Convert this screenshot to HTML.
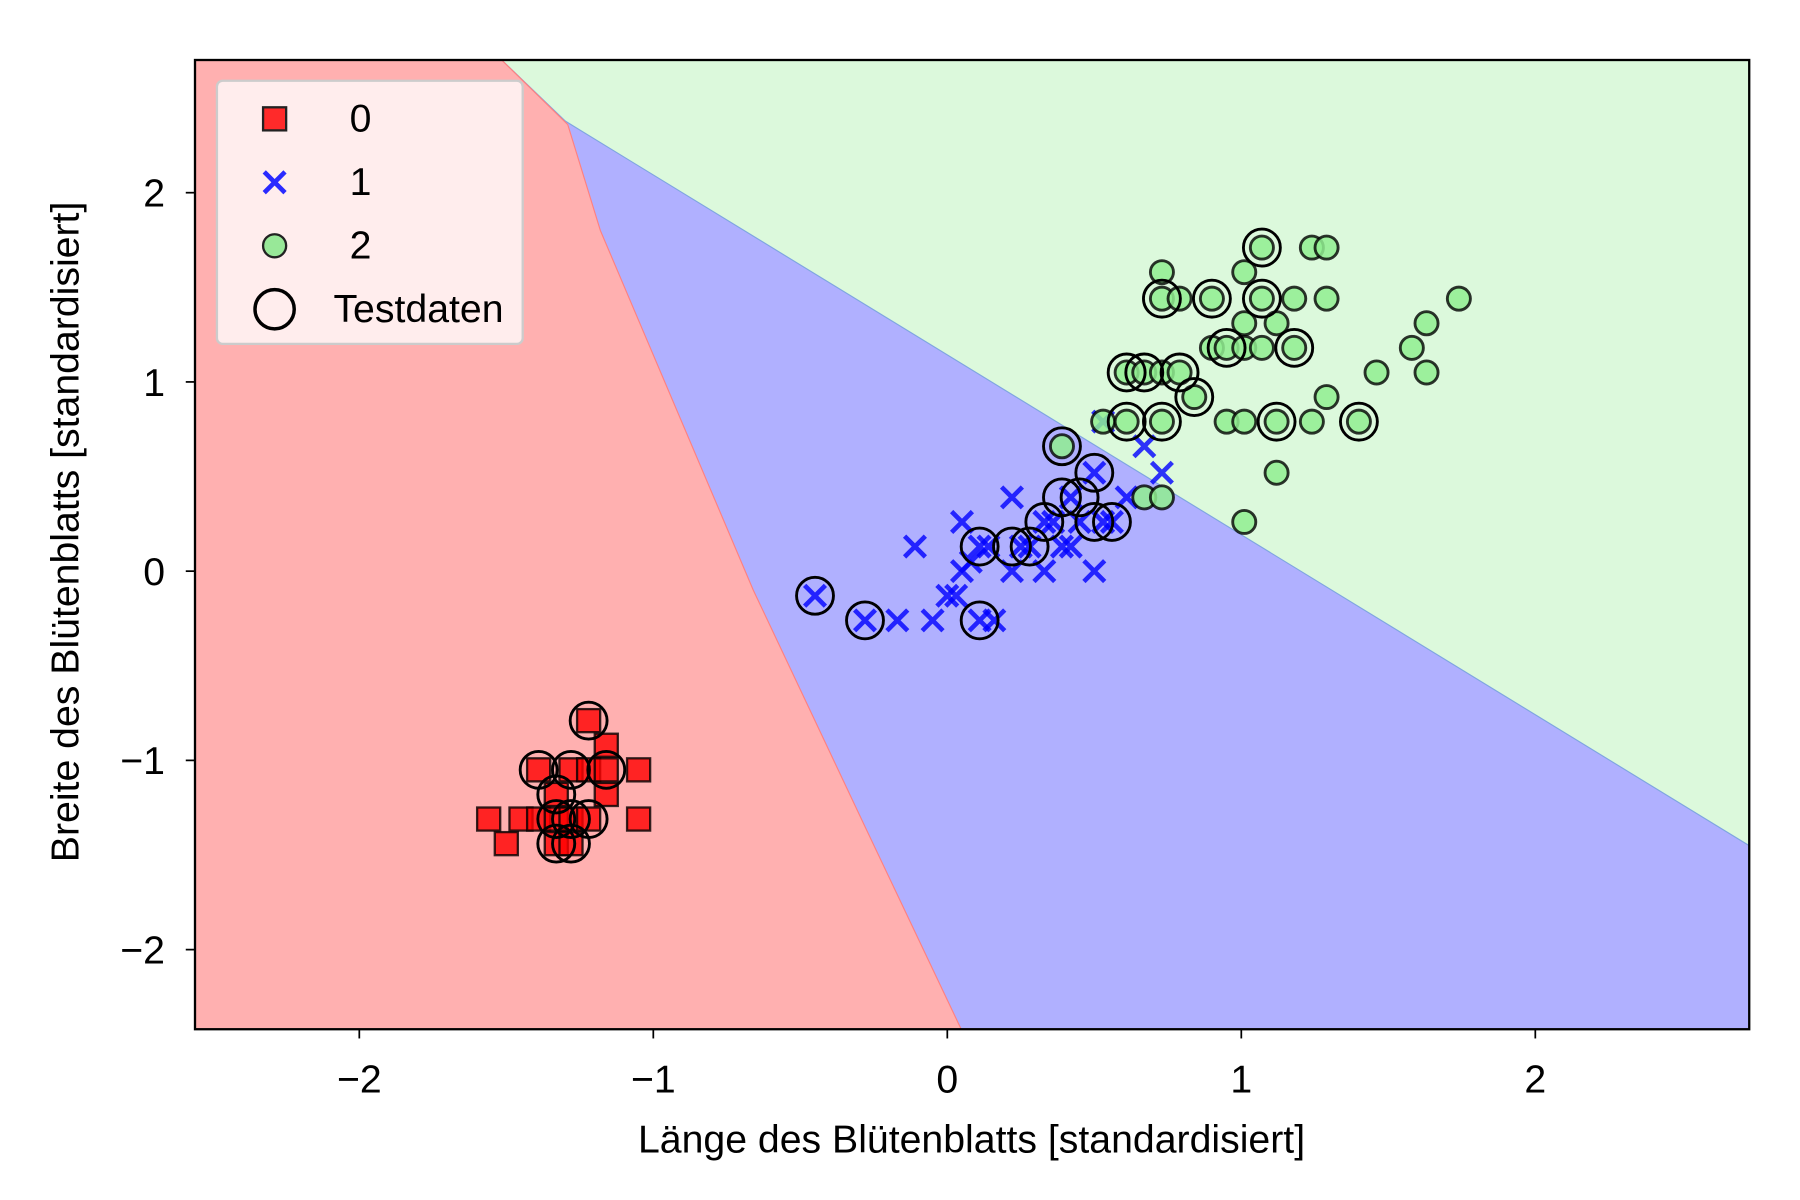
<!DOCTYPE html>
<html><head><meta charset="utf-8"><style>
html,body{margin:0;padding:0;background:#fff;}
svg{display:block;font-family:"Liberation Sans",sans-serif;}
</style></head><body>
<svg id="chart" width="1800" height="1200" viewBox="0 0 1560 1040" preserveAspectRatio="none" xmlns="http://www.w3.org/2000/svg">
<defs><clipPath id="plotclip"><rect x="169" y="52" width="1347" height="840"/></clipPath></defs>
<g id="plot" clip-path="url(#plotclip)"></g>
<rect x="169" y="52" width="1347" height="840" fill="none" stroke="#000" stroke-width="2"/>
<g id="axes"></g>
<text x="842" y="999" font-size="34" text-anchor="middle">Länge des Blütenblatts [standardisiert]</text>
<text transform="translate(68,461) rotate(-90)" font-size="34" text-anchor="middle">Breite des Blütenblatts [standardisiert]</text>
<g>
<rect x="188" y="70" width="265" height="228" rx="5" fill="#ffeded" stroke="#ccc" stroke-width="2"/>
<g><rect x="228" y="93" width="20" height="20" fill="#ff2a2a" stroke="#222" stroke-width="2"/><text x="303" y="114" font-size="34">0</text></g>
<g><path d="M229,149 L247,167 M247,149 L229,167" stroke="#2a2aff" stroke-width="4"/><text x="303" y="169" font-size="34">1</text></g>
<g><circle cx="238" cy="213" r="10" fill="#98e898" stroke="#222" stroke-width="2"/><text x="303" y="224" font-size="34">2</text></g>
<g><circle cx="238" cy="268" r="17" fill="none" stroke="#000" stroke-width="3"/><text x="289" y="279" font-size="34">Testdaten</text></g>
</g>
</svg>
<script>
const X0=821, XU=254.8, Y0=495, YU=164;
const xTicks=[-2,-1,0,1,2];
const yTicks=[-2,-1,0,1,2];
const xTickLabels=["\u22122","\u22121","0","1","2"];
const yTickLabels=["\u22122","\u22121","0","1","2"];
// decision boundaries in data coords
const redBoundaryX=[-1.515,-1.291,-1.18,-0.66,-0.28,0.047];
const redBoundaryY=[2.70,2.36,1.80,-0.10,-1.35,-2.42];
const greenBoundaryX=[-1.515,-1.299,2.728];
const greenBoundaryY=[2.70,2.378,-1.451];
const c0x=[-1.56,-1.50,-1.45,-1.39,-1.39,-1.33,-1.33,-1.33,-1.28,-1.28,-1.28,-1.22,-1.22,-1.22,-1.16,-1.16,-1.16,-1.05,-1.05];
const c0y=[-1.31,-1.44,-1.31,-1.05,-1.31,-1.18,-1.31,-1.44,-1.05,-1.31,-1.44,-0.79,-1.05,-1.31,-0.92,-1.05,-1.18,-1.05,-1.31];
const c1x=[-0.45,-0.28,-0.17,-0.11,-0.05,0,0.03,0.05,0.05,0.08,0.11,0.11,0.14,0.16,0.22,0.22,0.25,0.28,0.33,0.33,0.36,0.39,0.42,0.42,0.45,0.5,0.5,0.53,0.56,0.61,0.53,0.67,0.73];
const c1y=[-0.13,-0.26,-0.26,0.13,-0.26,-0.13,-0.13,0,0.26,0.05,0.13,-0.26,0.13,-0.26,0,0.39,0.13,0.13,0,0.26,0.26,0.13,0.13,0.39,0.26,0,0.52,0.26,0.26,0.39,0.79,0.66,0.52];
const c2x=[0.39,0.53,0.61,0.67,0.73,0.73,0.61,0.67,0.73,0.79,0.84,0.73,0.73,0.79,0.9,0.9,0.95,0.95,1.01,1.01,1.01,1.01,1.01,1.07,1.07,1.07,1.12,1.12,1.12,1.18,1.18,1.24,1.24,1.29,1.29,1.29,1.4,1.46,1.58,1.63,1.63,1.74];
const c2y=[0.66,0.79,0.79,0.39,0.39,0.79,1.05,1.05,1.05,1.05,0.92,1.44,1.58,1.44,1.44,1.18,1.18,0.79,0.79,0.26,1.18,1.31,1.58,1.71,1.44,1.18,1.31,0.52,0.79,1.18,1.44,1.71,0.79,1.71,1.44,0.92,0.79,1.05,1.18,1.31,1.05,1.44];
const testX=[-1.39,-1.28,-1.16,-1.22,-1.33,-1.33,-1.28,-1.22,-1.33,-1.28,-0.45,-0.28,0.11,0.11,0.22,0.28,0.33,0.39,0.45,0.5,0.5,0.56,0.39,0.61,0.73,0.61,0.67,0.79,0.84,0.73,0.9,0.95,1.07,1.07,1.18,1.12,1.4];
const testY=[-1.05,-1.05,-1.05,-0.79,-1.18,-1.31,-1.31,-1.31,-1.44,-1.44,-0.13,-0.26,0.13,-0.26,0.13,0.13,0.26,0.39,0.39,0.52,0.26,0.26,0.66,0.79,0.79,1.05,1.05,1.05,0.92,1.44,1.44,1.18,1.71,1.44,1.18,0.79,0.79];

const NS="http://www.w3.org/2000/svg";
const sx=v=>X0+v*XU, sy=v=>Y0-v*YU;
const plot=document.getElementById('plot'), axes=document.getElementById('axes');
function mk(tag,attrs,parent){const e=document.createElementNS(NS,tag);for(const k in attrs)e.setAttribute(k,attrs[k]);parent.appendChild(e);return e;}
const L=169,R=1516,T=52,B=892;
let bg=mk('rect',{x:L,y:T,width:R-L,height:B-T,fill:'#dcf9dc'},plot);


let bp=[];greenBoundaryX.forEach((v,i)=>bp.push(sx(v)+','+sy(greenBoundaryY[i])));
bp.push(R+','+B);bp.push(L+','+B);bp.push(L+','+T);
let blue=mk('polygon',{points:bp.join(' '),fill:'#b0b0ff',stroke:'#7fa6e0','stroke-width':1},plot);


let rp=[];redBoundaryX.forEach((v,i)=>rp.push(sx(v)+','+sy(redBoundaryY[i])));
rp.push(L+','+B);rp.push(L+','+T);
let red=mk('polygon',{points:rp.join(' '),fill:'#ffb0b0',stroke:'#ff8080','stroke-width':1},plot);


c0x.forEach((v,i)=>{const e=mk('rect',{x:sx(v)-10,y:sy(c0y[i])-10,width:20,height:20,fill:'rgba(255,0,0,0.8)',stroke:'rgba(0,0,0,0.8)','stroke-width':2},plot);

});
c1x.forEach((v,i)=>{const x=sx(v),y=sy(c1y[i]);const e=mk('path',{d:`M${x-9},${y-9}L${x+9},${y+9}M${x+9},${y-9}L${x-9},${y+9}`,stroke:'rgba(0,0,255,0.8)','stroke-width':4},plot);

});
c2x.forEach((v,i)=>{const e=mk('circle',{cx:sx(v),cy:sy(c2y[i]),r:10,fill:'rgba(144,238,144,0.85)',stroke:'rgba(0,0,0,0.8)','stroke-width':2.5},plot);

});
testX.forEach((v,i)=>{const e=mk('circle',{cx:sx(v),cy:sy(testY[i]),r:16,fill:'none',stroke:'#000','stroke-width':2.5},plot);

});
xTicks.forEach((v,i)=>{const x=sx(v);mk('line',{x1:x,x2:x,y1:B,y2:B+8,stroke:'#000','stroke-width':1.5},axes);
const t=mk('text',{x:x,y:B+55,'font-size':34,'text-anchor':'middle'},axes);t.textContent=xTickLabels[i];

});
yTicks.forEach((v,i)=>{const y=sy(v);mk('line',{x1:L-8,x2:L,y1:y,y2:y,stroke:'#000','stroke-width':1.5},axes);
const t=mk('text',{x:L-26,y:y+12,'font-size':34,'text-anchor':'end'},axes);t.textContent=yTickLabels[i];

});
</script>
</body></html>
